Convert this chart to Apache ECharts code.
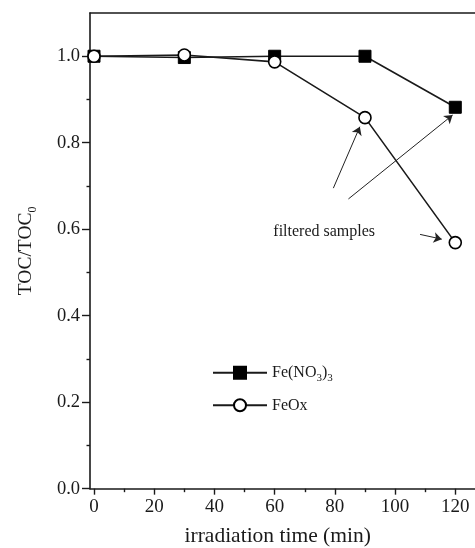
<!DOCTYPE html>
<html>
<head>
<meta charset="utf-8">
<script src="https://cdn.jsdelivr.net/npm/echarts@6/dist/echarts.min.js"></script>
<style>
  html, body { margin: 0; padding: 0; background: #fff; }
  #chart { width: 475px; height: 548px; }
</style>
</head>
<body>
<div id="chart"></div>
<script>
// Irradiation time (min) at which TOC was sampled
const times = [0, 30, 60, 90, 120];
// Normalised TOC for each iron source
const feNitrate = [1.0, 0.997, 1.0, 1.0, 0.882];
const feOx = [1.0, 1.003, 0.987, 0.858, 0.569];

// Axis ticks and labels
const xMajorTicks = [0, 20, 40, 60, 80, 100, 120];
const xMinorTicks = [10, 30, 50, 70, 90, 110];
const yMajorTicks = [0, 0.2, 0.4, 0.6, 0.8, 1.0];
const yMinorTicks = [0.1, 0.3, 0.5, 0.7, 0.9];

// "filtered samples" note and its arrows, in data coordinates [time, TOC/TOC0]
const noteText = 'filtered samples';
const noteAnchor = [59.4, 0.594];
const arrowStarts = [[79.5, 0.695], [84.5, 0.670], [108.3, 0.588]];
const arrowEnds = [[88.3, 0.837], [119.1, 0.864], [115.5, 0.577]];

const SERIF = '"Liberation Serif", "DejaVu Serif", serif';
const INK = '#1a1a1a';

const xPairs = (ys) => times.map((t, i) => [t, ys[i]]);

const subRich = {
  main: { fontFamily: SERIF, fontSize: 16, color: INK, lineHeight: 22, verticalAlign: 'middle' },
  sub: { fontFamily: SERIF, fontSize: 11, color: INK, lineHeight: 22, verticalAlign: 'bottom' }
};

const chart = echarts.init(document.getElementById('chart'), null, { renderer: 'canvas' });

const xCommon = { type: 'value', min: -1.33, max: 130, splitLine: { show: false } };
const yCommon = { type: 'value', min: 0, max: 1.1, splitLine: { show: false } };

chart.setOption({
  animation: false,
  backgroundColor: '#fff',
  grid: { left: 90, top: 13, right: -10.4, bottom: 59.33, containLabel: false, outerBoundsMode: 'none' },
  legend: {
    orient: 'vertical',
    left: 212,
    top: 364.7,
    padding: 0,
    itemWidth: 54,
    itemHeight: 15,
    itemGap: 13.6,
    selectedMode: false,
    data: ['Fe(NO3)3', 'FeOx'],
    formatter: (name) => name === 'Fe(NO3)3'
      ? '{main|Fe(NO}{sub|3}{main|)}{sub|3}'
      : '{main|FeOx}',
    textStyle: { rich: subRich }
  },
  xAxis: [
    Object.assign({}, xCommon, {
      position: 'bottom',
      name: 'irradiation time (min)',
      nameLocation: 'middle',
      nameGap: 37,
      nameMoveOverlap: false,
      nameTextStyle: { fontFamily: SERIF, fontSize: 21.5, color: INK, padding: [0, 20, 0, 0] },
      axisLine: { show: true, onZero: false, lineStyle: { color: INK, width: 1.6 } },
      axisTick: { show: true, inside: false, length: 6, customValues: xMajorTicks, lineStyle: { color: INK, width: 1.4 } },
      axisLabel: { show: true, margin: 9, customValues: xMajorTicks, fontFamily: SERIF, fontSize: 19, color: INK }
    }),
    Object.assign({}, xCommon, {
      position: 'bottom',
      axisLine: { show: false, onZero: false },
      axisTick: { show: true, inside: false, length: 3.5, customValues: xMinorTicks, lineStyle: { color: INK, width: 1.4 } },
      axisLabel: { show: false }
    }),
    Object.assign({}, xCommon, {
      position: 'top',
      axisLine: { show: true, onZero: false, lineStyle: { color: INK, width: 1.6 } },
      axisTick: { show: false },
      axisLabel: { show: false }
    })
  ],
  yAxis: [
    Object.assign({}, yCommon, {
      position: 'left',
      name: 'TOC/TOC{sub|0}',
      nameLocation: 'middle',
      nameGap: 51,
      nameMoveOverlap: false,
      nameTextStyle: {
        fontFamily: SERIF, fontSize: 19.5, color: INK,
        rich: {
          sub: { fontFamily: SERIF, fontSize: 12, color: INK, verticalAlign: 'bottom', lineHeight: 26 }
        }
      },
      axisLine: { show: true, onZero: false, lineStyle: { color: INK, width: 1.6 } },
      axisTick: { show: true, inside: false, length: 8, customValues: yMajorTicks, lineStyle: { color: INK, width: 1.4 } },
      axisLabel: {
        show: true, margin: 10, customValues: yMajorTicks,
        fontFamily: SERIF, fontSize: 18.5, color: INK,
        formatter: (v) => v.toFixed(1)
      }
    }),
    Object.assign({}, yCommon, {
      position: 'left',
      axisLine: { show: false, onZero: false },
      axisTick: { show: true, inside: false, length: 3.5, customValues: yMinorTicks, lineStyle: { color: INK, width: 1.4 } },
      axisLabel: { show: false }
    })
  ],
  series: [
    {
      name: 'Fe(NO3)3',
      type: 'line',
      xAxisIndex: 0,
      yAxisIndex: 0,
      data: xPairs(feNitrate),
      symbol: 'rect',
      symbolSize: 12,
      lineStyle: { color: INK, width: 1.6 },
      itemStyle: { color: '#000', borderColor: '#000', borderWidth: 1 },
      emphasis: { disabled: true }
    },
    {
      name: 'FeOx',
      type: 'line',
      xAxisIndex: 0,
      yAxisIndex: 0,
      data: xPairs(feOx),
      symbol: 'circle',
      symbolSize: 12,
      lineStyle: { color: INK, width: 1.6 },
      itemStyle: { color: '#fff', borderColor: '#000', borderWidth: 1.6 },
      emphasis: { disabled: true },
      markLine: {
        silent: true,
        symbol: ['none', 'arrow'],
        symbolSize: 8,
        label: { show: false },
        lineStyle: { color: '#222', width: 1, type: 'solid' },
        emphasis: { disabled: true },
        data: arrowStarts.map((s, i) => [{ coord: s }, { coord: arrowEnds[i] }])
      },
      markPoint: {
        silent: true,
        symbol: 'rect',
        symbolSize: 1,
        itemStyle: { color: 'rgba(0,0,0,0)' },
        label: {
          show: true, position: 'right', distance: 0,
          formatter: noteText,
          fontFamily: SERIF, fontSize: 16, color: INK
        },
        data: [{ coord: noteAnchor }]
      }
    }
  ]
});
</script>
</body>
</html>
